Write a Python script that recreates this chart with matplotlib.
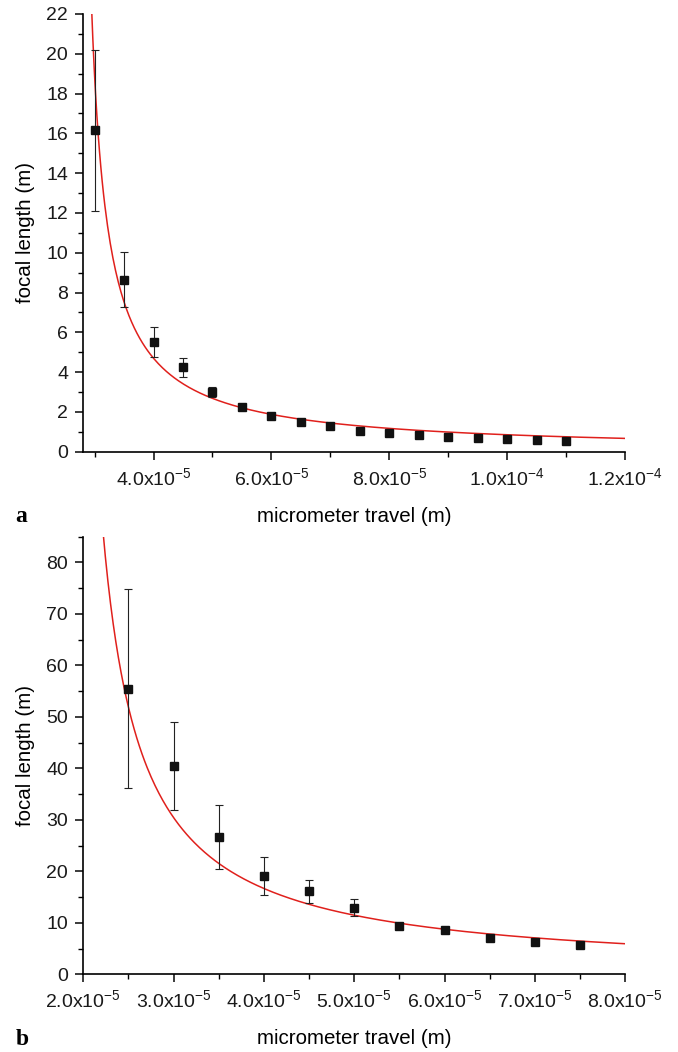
import numpy as np
import matplotlib
matplotlib.use('Agg')
import matplotlib.pyplot as plt
from matplotlib.ticker import MultipleLocator, FuncFormatter

plt.rcParams['font.family'] = ['Liberation Sans', 'DejaVu Sans']
plt.rcParams['mathtext.fontset'] = 'custom'
plt.rcParams['mathtext.rm'] = 'Liberation Sans'
plt.rcParams['mathtext.it'] = 'Liberation Sans:italic'

# panel a data
travel_a = [3.0e-5, 3.5e-5, 4.0e-5, 4.5e-5, 5.0e-5, 5.5e-5, 6.0e-5, 6.5e-5, 7.0e-5,
            7.5e-5, 8.0e-5, 8.5e-5, 9.0e-5, 9.5e-5, 1.0e-4, 1.05e-4, 1.1e-4]
focal_a = [16.15, 8.65, 5.53, 4.24, 3.02, 2.26, 1.79, 1.48, 1.29,
           1.06, 0.95, 0.85, 0.75, 0.67, 0.62, 0.59, 0.55]
err_a = [4.05, 1.4, 0.76, 0.47, 0.25, 0.0, 0.0, 0.0, 0.0,
         0.0, 0.0, 0.0, 0.0, 0.0, 0.0, 0.0, 0.0]
fit_a = (6.25e-5, 2.67e-5)   # f = A / (x - x0)

# panel b data
travel_b = [2.5e-5, 3.0e-5, 3.5e-5, 4.0e-5, 4.5e-5, 5.0e-5, 5.5e-5, 6.0e-5, 6.5e-5,
            7.0e-5, 7.5e-5]
focal_b = [55.5, 40.5, 26.7, 19.1, 16.1, 12.95, 9.4, 8.5, 7.05, 6.2, 5.6]
err_b = [19.4, 8.55, 6.2, 3.65, 2.3, 1.6, 0.0, 0.0, 0.0, 0.0, 0.0]
fit_b = (36.8e-5, 1.79e-5)


def sci_fmt(v, pos):
    if v == 0:
        return '0'
    exp = int(np.floor(np.log10(abs(v)) + 1e-9))
    mant = v / 10 ** exp
    return '%.1fx10$^{%d}$' % (mant, exp)


def panel(ax, x, y, e, fit, xlim, ylim, xmaj, ymaj, letter):
    A, x0 = fit
    xs = np.linspace(x0 + A / ylim[1] * 0.98, xlim[1], 400)
    ax.plot(xs, A / (xs - x0), color='#e0201c', lw=1.1, zorder=2)
    ax.errorbar(x, y, yerr=e, fmt='s', color='#111111', ms=6.2, elinewidth=0.8,
                ecolor='#222222', capsize=3.2, capthick=0.8, zorder=3)
    ax.set_xlim(*xlim)
    ax.set_ylim(*ylim)
    ax.xaxis.set_major_locator(MultipleLocator(xmaj))
    ax.xaxis.set_minor_locator(MultipleLocator(xmaj / 2))
    ax.yaxis.set_major_locator(MultipleLocator(ymaj))
    ax.yaxis.set_minor_locator(MultipleLocator(ymaj / 2))
    ax.xaxis.set_major_formatter(FuncFormatter(sci_fmt))
    for s in ['top', 'right']:
        ax.spines[s].set_visible(False)
    for s in ['left', 'bottom']:
        ax.spines[s].set_linewidth(1.2)
    ax.tick_params(which='major', direction='out', length=6, width=1.2,
                   labelsize=14, colors='#1a1a1a')
    ax.tick_params(which='minor', direction='out', length=3.5, width=1.0)
    ax.tick_params(axis='x', pad=5)
    ax.tick_params(axis='y', pad=5)
    ax.set_xlabel('micrometer travel (m)', fontsize=14.8, labelpad=13)
    ax.set_ylabel('focal length (m)', fontsize=14.8, labelpad=8)
    ax.text(-0.125, -0.148, letter, transform=ax.transAxes, fontsize=17,
            fontweight='bold', family='Liberation Serif', va='center')


fig = plt.figure(figsize=(6.78, 10.52), dpi=100)
ax1 = fig.add_axes([0.1229, 0.5706, 0.7994, 0.4161])
ax2 = fig.add_axes([0.1229, 0.0739, 0.7994, 0.4160])

panel(ax1, travel_a, focal_a, err_a, fit_a, (2.81e-5, 1.2e-4), (0, 22), 2e-5, 2, 'a')
panel(ax2, travel_b, focal_b, err_b, fit_b, (2.0e-5, 8.0e-5), (0, 85), 1e-5, 10, 'b')
ax1.xaxis.set_minor_locator(MultipleLocator(1e-5))

fig.savefig('out.png', dpi=100)
